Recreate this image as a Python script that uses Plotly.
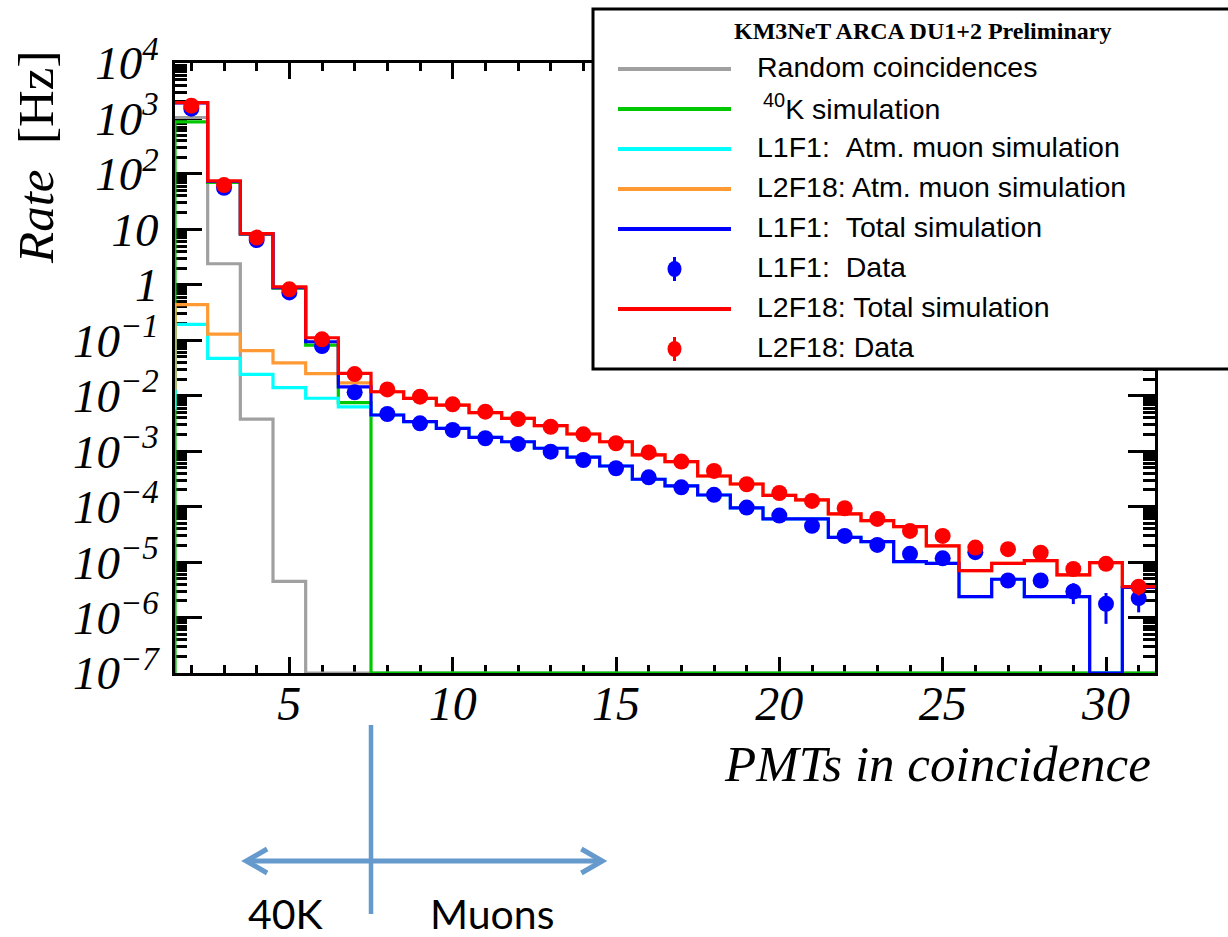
import plotly.graph_objects as go

# ---------------------------------------------------------------------------
# Rates per number of PMTs in coincidence (Hz)
# Histogram bins are centred on integers 1..31 (None = bin not drawn)
# ---------------------------------------------------------------------------
HIST_BINS = list(range(1, 32))

random_coinc = [None, 1040, 2.4, 3.8e-3, 4.5e-6, 0, 0, 0, 0, 0, 0, 0, 0, 0, 0, 0,
                0, 0, 0, 0, 0, 0, 0, 0, 0, 0, 0, 0, 0, 0, 0]

k40_sim = [0, 870, 70, 8.2, 0.87, 0.082, 0.0075, 0, 0, 0, 0, 0, 0, 0, 0, 0,
           0, 0, 0, 0, 0, 0, 0, 0, 0, 0, 0, 0, 0, 0, 0]

l1f1_muon = [0.006, 0.193, 0.047, 0.0243, 0.0140, 0.0090, 0.0063,
             0.00449, 0.0034, 0.00258, 0.00178, 0.00148, 0.00113, 7.8e-4,
             5.4e-4, 3.12e-4, 2.36e-4, 1.62e-4, 9.5e-5, 6.0e-5, 6.0e-5,
             2.8e-5, 2.34e-5, 1.02e-5, 9.5e-6, 2.39e-6, 4.9e-6, 2.39e-6,
             2.39e-6, 0, 3.5e-6]

l2f18_muon = [0.0137, 0.44, 0.129, 0.065, 0.039, 0.025, 0.0171,
              0.0118, 0.00897, 0.00679, 0.00494, 0.00392, 0.00288, 0.00204,
              0.00148, 8.55e-4, 6.48e-4, 3.57e-4, 2.56e-4, 1.6e-4, 1.32e-4,
              7.4e-5, 5.6e-5, 4.37e-5, 1.96e-5, 7.0e-6, 9.5e-6, 1.06e-5,
              5.9e-6, 9.8e-6, 3.6e-6]

l1f1_total = [None, 1910, 73, 8.3, 0.89, 0.094, 0.0145,
              0.00449, 0.0034, 0.00258, 0.00178, 0.00148, 0.00113, 7.8e-4,
              5.4e-4, 3.12e-4, 2.36e-4, 1.62e-4, 9.5e-5, 6.0e-5, 6.0e-5,
              2.8e-5, 2.34e-5, 1.02e-5, 9.5e-6, 2.39e-6, 4.9e-6, 2.39e-6,
              2.39e-6, 0, 3.5e-6]

l2f18_total = [None, 1930, 75, 8.4, 0.92, 0.111, 0.0253,
               0.0118, 0.00897, 0.00679, 0.00494, 0.00392, 0.00288, 0.00204,
               0.00148, 8.55e-4, 6.48e-4, 3.57e-4, 2.56e-4, 1.6e-4, 1.32e-4,
               7.4e-5, 5.6e-5, 4.37e-5, 1.96e-5, 7.0e-6, 9.5e-6, 1.06e-5,
               5.9e-6, 9.8e-6, 3.6e-6]

# Measured rates (bins 2..31) with their errors
DATA_BINS = list(range(2, 32))

l1f1_data = [1500, 56, 6.4, 0.73, 0.0785, 0.0115, 0.00468, 0.00318, 0.00241,
             0.00171, 0.00135, 9.8e-4, 6.93e-4, 4.92e-4, 3.38e-4, 2.23e-4,
             1.63e-4, 9.6e-5, 6.9e-5, 4.5e-5, 2.96e-5, 2.04e-5, 1.41e-5,
             1.17e-5, 1.51e-5, 4.65e-6, 4.65e-6, 2.95e-6, 1.77e-6, 2.24e-6]
l1f1_err = [0, 0, 0, 0, 0, 0, 0, 0, 0, 0, 0, 0, 0, 0, 0, 0, 0, 0, 0, 0,
            0, 0, 1.5e-6, 1.5e-6, 2e-6, 1.2e-6, 1.2e-6, 1.2e-6, 1.0e-6, 1.0e-6]

l2f18_data = [1700, 63, 7.1, 0.83, 0.104, 0.0246, 0.0130, 0.0096, 0.0070,
              0.00516, 0.0038, 0.00276, 0.00201, 0.00139, 9.5e-4, 6.5e-4,
              4.4e-4, 2.53e-4, 1.76e-4, 1.27e-4, 9.35e-5, 6.0e-5, 3.65e-5,
              2.96e-5, 1.83e-5, 1.71e-5, 1.48e-5, 7.5e-6, 9.3e-6, 3.6e-6]
l2f18_err = [0, 0, 0, 0, 0, 0, 0, 0, 0, 0, 0, 0, 0, 0, 0, 0, 0, 0, 0, 0,
             0, 0, 2e-6, 2e-6, 2e-6, 1.5e-6, 1.5e-6, 1.2e-6, 1.2e-6, 1.1e-6]

Y_TICK_VALS = [1e4, 1e3, 1e2, 1e1, 1, 1e-1, 1e-2, 1e-3, 1e-4, 1e-5, 1e-6, 1e-7]
Y_TICK_TEXT = ["10<sup>4</sup>", "10<sup>3</sup>", "10<sup>2</sup>", "10", "1",
               "10<sup>−1</sup>", "10<sup>−2</sup>", "10<sup>−3</sup>",
               "10<sup>−4</sup>", "10<sup>−5</sup>", "10<sup>−6</sup>",
               "10<sup>−7</sup>"]
X_TICK_VALS = [5, 10, 15, 20, 25, 30]

# ---------------------------------------------------------------------------
GREY = "#A0A0A0"
GREEN = "#00C800"
CYAN = "#00FFFF"
ORANGE = "#FF9933"
BLUE = "#0000FF"
RED = "#FF0000"
ARROW = "#6699CC"

X_MIN, X_MAX = 1.5, 31.5
Y_FLOOR = 1e-7          # empty bins are drawn on the bottom of the frame
W, H = 1228, 937
M_L, M_R, M_T, M_B = 175, 73, 63, 264
PW, PH = W - M_L - M_R, H - M_T - M_B


def px_x(px):
    """figure pixel -> paper x"""
    return (px - M_L) / PW


def px_y(py):
    """figure pixel -> paper y"""
    return (H - M_B - py) / PH


def step_xy(bins, values):
    """Edges/levels of a step histogram for line_shape='hv'."""
    xs, ys = [], []
    for c, v in zip(bins, values):
        if v is None:
            continue
        xs.append(c - 0.5)
        ys.append(v if v > 0 else Y_FLOOR)
    xs.append(xs[-1] + 1.0)
    ys.append(ys[-1])
    return xs, ys


fig = go.Figure()

for vals, col in [(random_coinc, GREY), (k40_sim, GREEN), (l1f1_muon, CYAN),
                  (l2f18_muon, ORANGE), (l1f1_total, BLUE), (l2f18_total, RED)]:
    xs, ys = step_xy(HIST_BINS, vals)
    fig.add_trace(go.Scatter(x=xs, y=ys, mode="lines", line_shape="hv",
                             line=dict(color=col, width=3.2),
                             showlegend=False, hoverinfo="skip"))

for vals, errs, col in [(l1f1_data, l1f1_err, BLUE), (l2f18_data, l2f18_err, RED)]:
    fig.add_trace(go.Scatter(
        x=DATA_BINS, y=vals, mode="markers",
        marker=dict(color=col, size=16, symbol="circle", line=dict(width=0)),
        error_y=dict(type="data", array=errs, visible=True, color=col,
                     thickness=3, width=0),
        showlegend=False, hoverinfo="skip"))

serif = "Liberation Serif, Times New Roman, serif"

fig.update_xaxes(
    range=[X_MIN, X_MAX], tickmode="array", tickvals=X_TICK_VALS,
    ticks="inside", ticklen=16, tickwidth=3, tickcolor="black",
    minor=dict(ticks="inside", dtick=1, tick0=0, ticklen=8, tickwidth=3,
               tickcolor="black"),
    showline=True, linecolor="black", linewidth=3, mirror="ticks",
    showgrid=False, zeroline=False, layer="below traces",
    tickfont=dict(family=serif, size=48, color="black", style="italic"),
    ticklabelstandoff=-14,
)
fig.update_yaxes(
    type="log", range=[-7, 4], tickmode="array", tickvals=Y_TICK_VALS,
    ticktext=Y_TICK_TEXT,
    ticks="inside", ticklen=27, tickwidth=3, tickcolor="black",
    minor=dict(ticks="inside", dtick="D1", ticklen=12, tickwidth=3,
               tickcolor="black"),
    showline=True, linecolor="black", linewidth=3, mirror="ticks",
    showgrid=False, zeroline=False, layer="below traces",
    tickfont=dict(family=serif, size=47, color="black", style="italic"),
    ticklabelstandoff=4,
)

shapes = []
annotations = []

# Axis titles
annotations.append(dict(
    xref="paper", yref="paper", x=px_x(36), y=px_y(158), textangle=-90,
    text="<i>Rate</i>\u00a0\u00a0[Hz]", showarrow=False,
    xanchor="center", yanchor="middle",
    font=dict(family=serif, size=51, color="black")))
annotations.append(dict(
    xref="paper", yref="paper", x=px_x(1153), y=px_y(764),
    text="<i>PMTs in coincidence</i>", showarrow=False,
    xanchor="right", yanchor="middle",
    font=dict(family=serif, size=51, color="black")))

# Legend box
LEG_L, LEG_T, LEG_B, LEG_R = 593, 9, 369, 1240
shapes.append(dict(type="rect", xref="paper", yref="paper", layer="above",
                   x0=px_x(LEG_L), x1=px_x(LEG_R), y0=px_y(LEG_B), y1=px_y(LEG_T),
                   line=dict(color="black", width=3), fillcolor="white"))
annotations.append(dict(
    xref="paper", yref="paper", x=px_x(922), y=px_y(31),
    text="<b>KM3NeT ARCA DU1+2 Preliminary</b>", showarrow=False,
    xanchor="center", yanchor="middle",
    font=dict(family=serif, size=24, color="black")))

legend_rows = [
    ("Random coincidences", GREY, "line"),
    ("<sup>40</sup>K simulation", GREEN, "line"),
    ("L1F1:\u00a0\u00a0Atm. muon simulation", CYAN, "line"),
    ("L2F18: Atm. muon simulation", ORANGE, "line"),
    ("L1F1:\u00a0\u00a0Total simulation", BLUE, "line"),
    ("L1F1:\u00a0\u00a0Data", BLUE, "point"),
    ("L2F18: Total simulation", RED, "line"),
    ("L2F18: Data", RED, "point"),
]
ROW0, ROW_STEP = 69, 40
SAMPLE_L, SAMPLE_R, TEXT_L = 618, 731, 755
for i, (label, col, kind) in enumerate(legend_rows):
    yc = ROW0 + ROW_STEP * i
    if kind == "line":
        shapes.append(dict(type="line", xref="paper", yref="paper", layer="above",
                           x0=px_x(SAMPLE_L), x1=px_x(SAMPLE_R),
                           y0=px_y(yc), y1=px_y(yc),
                           line=dict(color=col, width=4)))
    else:
        xm = px_x((SAMPLE_L + SAMPLE_R) / 2)
        shapes.append(dict(type="line", xref="paper", yref="paper", layer="above",
                           xsizemode="pixel", ysizemode="pixel",
                           xanchor=xm, yanchor=px_y(yc),
                           x0=0, x1=0, y0=-12, y1=12,
                           line=dict(color=col, width=3)))
        shapes.append(dict(type="circle", xref="paper", yref="paper", layer="above",
                           xsizemode="pixel", ysizemode="pixel",
                           xanchor=xm, yanchor=px_y(yc),
                           x0=-7, x1=7, y0=-8, y1=8,
                           line=dict(width=0), fillcolor=col))
    x_text = TEXT_L + (6 if label.startswith("<sup>") else 0)
    annotations.append(dict(
        xref="paper", yref="paper", x=px_x(x_text), y=px_y(yc - 2),
        text=label, showarrow=False, xanchor="left", yanchor="middle",
        font=dict(family="Liberation Sans, Arial, sans-serif", size=28.5,
                  color="black")))

# 40K / muon separation marker below the axis (boundary at 7.5 PMTs)
SPLIT_X = 7.5
ARROW_LEFT, ARROW_RIGHT = 3.68, 14.58
HEAD_DX = 0.64
y_arrow = px_y(861)
shapes.append(dict(type="line", xref="x", yref="paper", layer="above",
                   x0=SPLIT_X, x1=SPLIT_X, y0=px_y(725), y1=px_y(914),
                   line=dict(color=ARROW, width=4.5)))
shapes.append(dict(type="line", xref="x", yref="paper", layer="above",
                   x0=ARROW_LEFT, x1=ARROW_RIGHT, y0=y_arrow, y1=y_arrow,
                   line=dict(color=ARROW, width=5)))
for tip, sgn in [(ARROW_LEFT, 1), (ARROW_RIGHT, -1)]:
    path = (f"M {tip + sgn * HEAD_DX},{px_y(849)} L {tip},{y_arrow} "
            f"L {tip + sgn * HEAD_DX},{px_y(873)}")
    shapes.append(dict(type="path", xref="x", yref="paper", layer="above",
                       path=path, line=dict(color=ARROW, width=5)))

for txt, xc in [("40K", 286), ("Muons", 492)]:
    annotations.append(dict(
        xref="paper", yref="paper", x=px_x(xc), y=px_y(913), text=txt,
        showarrow=False, xanchor="center", yanchor="middle",
        font=dict(family="Lato, Open Sans, sans-serif", size=41, color="black")))

fig.update_layout(
    width=W, height=H,
    margin=dict(l=M_L, r=M_R, t=M_T, b=M_B),
    paper_bgcolor="white", plot_bgcolor="white",
    shapes=shapes, annotations=annotations,
    showlegend=False,
)

fig.write_html("out.html")
